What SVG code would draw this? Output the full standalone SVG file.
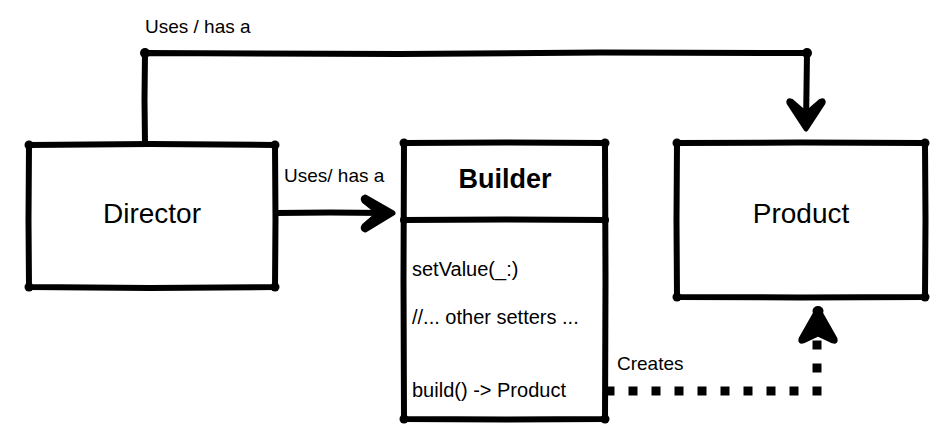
<svg xmlns="http://www.w3.org/2000/svg" width="942" height="426" viewBox="0 0 942 426">
<style>
.box{fill:#fff;stroke:#000;stroke-width:6;stroke-linejoin:round;stroke-linecap:round}
.ln{fill:none;stroke:#000;stroke-width:6;stroke-linejoin:round;stroke-linecap:round}
.dot{fill:#000}
.sq{fill:#000}
.ah{fill:#000;stroke:#000;stroke-width:5;stroke-linejoin:round}
text{font-family:"Liberation Sans",Arial,sans-serif;fill:#000}
.t{font-size:28px}
.lb{font-size:19px}
.m{font-size:20px}
</style>
<defs>
  <rect id="s" class="sq" x="-4.5" y="-4.5" width="9" height="9"/>
</defs>
<rect width="942" height="426" fill="#fff"/>
<g id="connectors">
  <path class="ln" d="M145,144 L144.5,100 L145,53 L400,54 L600,52.5 L807,53 L806.5,90 L806,124"/>
  <circle class="dot" cx="145" cy="53" r="5"/>
  <circle class="dot" cx="807" cy="53" r="5"/>
  <path class="ah" d="M806,129 L789,103 Q788,100 791,101 L806,114 L821,101 Q824,100 823,103 Z"/>
  <text class="lb" x="145" y="33">Uses / has a</text>

  <path class="ln" d="M276,213 L330,212.5 L385,213"/>
  <path class="ah" d="M393,213 L365,197 Q362,198 364,201 L379,213 L364,226 Q362,229 365,230 Z"/>
  <text class="lb" x="284" y="182">Uses/ has a</text>

  <g id="dashed">
    <use href="#s" x="610" y="391"/>
    <use href="#s" x="633" y="391"/>
    <use href="#s" x="656" y="391"/>
    <use href="#s" x="679" y="391"/>
    <use href="#s" x="702" y="391"/>
    <use href="#s" x="725" y="391"/>
    <use href="#s" x="748" y="391"/>
    <use href="#s" x="771" y="391"/>
    <use href="#s" x="794" y="391"/>
    <use href="#s" x="817" y="391"/>
    <use href="#s" x="817" y="368"/>
    <use href="#s" x="817" y="345"/>
  </g>
  <path class="ah" d="M818,309 L801,339 Q800,342 803,341 L818,334 L833,341 Q836,342 835,339 Z"/>
  <ellipse class="dot" cx="818" cy="311" rx="5.5" ry="5"/>
  <text class="lb" x="617" y="370">Creates</text>
</g>
<g id="director">
  <path class="box" d="M29,145 L150,144 L275,145 L275.5,220 L275,287 L150,288 L29,287 L28.5,220 Z"/>
  <circle class="dot" cx="29" cy="145" r="4.5"/><circle class="dot" cx="275" cy="145" r="4.5"/>
  <circle class="dot" cx="29" cy="287" r="4.5"/><circle class="dot" cx="275" cy="287" r="4.5"/>
  <text class="t" x="152" y="223" text-anchor="middle">Director</text>
</g>
<g id="builder">
  <path class="box" d="M404,143 L505,142.5 L605,143 L605.5,280 L605,419 L505,419.5 L404,419 L403.5,280 Z"/>
  <path class="ln" d="M404,220 L505,219.5 L605,220"/>
  <circle class="dot" cx="404" cy="143" r="4.5"/><circle class="dot" cx="605" cy="143" r="4.5"/>
  <circle class="dot" cx="404" cy="419" r="4.5"/><circle class="dot" cx="605" cy="419" r="4.5"/>
  <circle class="dot" cx="404" cy="220" r="4"/><circle class="dot" cx="605" cy="220" r="4"/>
  <text class="t" x="505" y="188" text-anchor="middle" font-weight="bold" style="font-size:27px">Builder</text>
  <text class="m" x="412" y="276">setValue(_:)</text>
  <text class="m" x="412" y="324">//... other setters ...</text>
  <text class="m" x="412" y="397">build() -&gt; Product</text>
</g>
<g id="product">
  <path class="box" d="M677,143 L800,142.5 L925,143 L925.5,220 L925,297 L800,297.5 L677,297 L676.5,220 Z"/>
  <circle class="dot" cx="677" cy="143" r="4.5"/><circle class="dot" cx="925" cy="143" r="4.5"/>
  <circle class="dot" cx="677" cy="297" r="4.5"/><circle class="dot" cx="925" cy="297" r="4.5"/>
  <text class="t" x="801" y="223" text-anchor="middle">Product</text>
</g>
</svg>
